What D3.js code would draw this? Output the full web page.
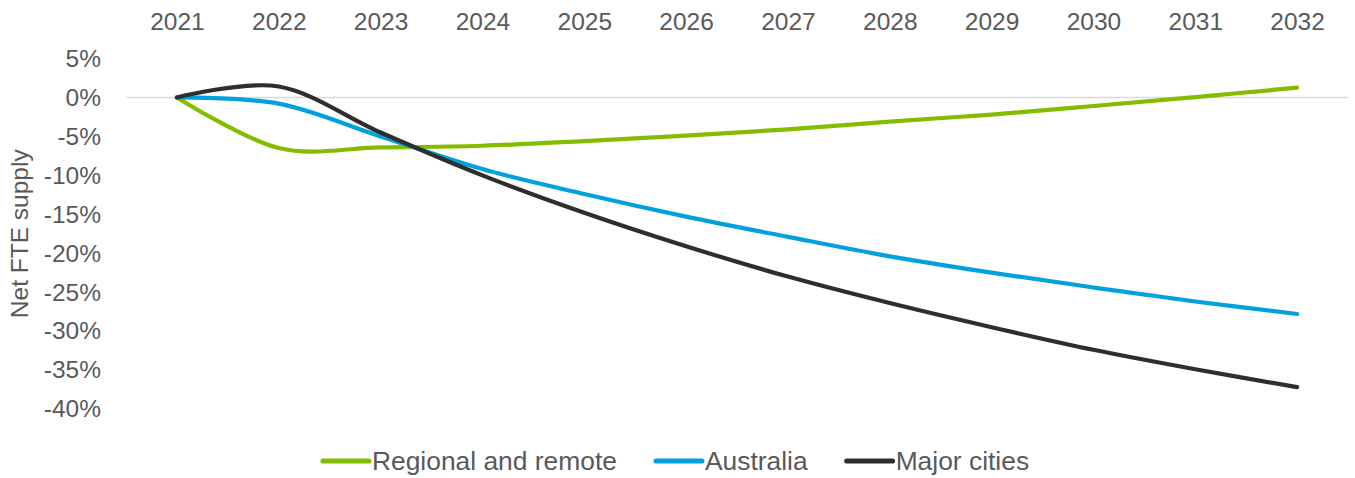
<!DOCTYPE html>
<html>
<head>
<meta charset="utf-8">
<script src="https://cdn.jsdelivr.net/npm/d3@7"></script>
<style>
  body { margin: 0; background: #fff; }
  text { font-family: "Liberation Sans", Arial, sans-serif; fill: #595959; }
</style>
</head>
<body>
<svg id="chart" width="1355" height="478"></svg>
<script>
// data
var years = ["2021","2022","2023","2024","2025","2026","2027","2028","2029","2030","2031","2032"];
var regional = [0, -6.5, -6.4, -6.2, -5.6, -4.9, -4.1, -3.1, -2.2, -1.1, 0.05, 1.25];
var australia = [0, -0.8, -5.0, -9.2, -12.4, -15.3, -17.9, -20.4, -22.5, -24.4, -26.2, -27.8];
var majorCities = [0, 1.4, -4.5, -10.0, -14.8, -19.1, -23.0, -26.4, -29.5, -32.4, -34.9, -37.2];
var yTicks = [5, 0, -5, -10, -15, -20, -25, -30, -35, -40];

var series = [
  {name: "Regional and remote", values: regional, color: "#84bd00"},
  {name: "Australia", values: australia, color: "#00a1de"},
  {name: "Major cities", values: majorCities, color: "#2e2e2e"}
];

var svg = d3.select("#chart");
var fontSize = 24.5;
var legendFont = 26.4;

var x = d3.scalePoint()
  .domain(years)
  .range([126, 1348])
  .padding(0.5);

var y = d3.scaleLinear()
  .domain([-40, 5])
  .range([409, 58.5]);

// zero line
svg.append("line")
  .attr("x1", 126).attr("x2", 1348)
  .attr("y1", y(0)).attr("y2", y(0))
  .attr("stroke", "#d9d9d9")
  .attr("stroke-width", 1.5);

// year labels along the top
var xAxis = svg.append("g")
  .attr("transform", "translate(0,30)")
  .call(d3.axisTop(x).tickSize(0).tickPadding(0));
xAxis.select(".domain").remove();
xAxis.selectAll("text")
  .style("font-size", fontSize + "px")
  .attr("fill", "#595959");

// percent labels
var yAxis = svg.append("g")
  .attr("transform", "translate(101,0)")
  .call(d3.axisLeft(y).tickValues(yTicks).tickSize(0).tickPadding(0)
    .tickFormat(function(d){ return d + "%"; }));
yAxis.select(".domain").remove();
yAxis.selectAll("text")
  .style("font-size", fontSize + "px")
  .attr("fill", "#595959");

// axis title
svg.append("text")
  .attr("transform", "translate(28," + ((y(5) + y(-40)) / 2) + ") rotate(-90)")
  .attr("text-anchor", "middle")
  .style("font-size", fontSize + "px")
  .text("Net FTE supply");

var line = d3.line()
  .x(function(d, i){ return x(years[i]); })
  .y(function(d){ return y(d); })
  .curve(d3.curveCardinal.tension(0));

svg.selectAll("path.series")
  .data(series)
  .enter()
  .append("path")
  .attr("class", "series")
  .attr("d", function(s){ return line(s.values); })
  .attr("fill", "none")
  .attr("stroke", function(s){ return s.color; })
  .attr("stroke-width", 4.2)
  .attr("stroke-linecap", "round")
  .attr("stroke-linejoin", "round");

// legend, centred under the chart
var legend = svg.append("g");
var cursor = 0;
series.forEach(function(s){
  var g = legend.append("g").attr("transform", "translate(" + cursor + ",0)");
  g.append("line")
    .attr("x1", 2).attr("x2", 48)
    .attr("y1", 0).attr("y2", 0)
    .attr("stroke", s.color)
    .attr("stroke-width", 5)
    .attr("stroke-linecap", "round");
  var t = g.append("text")
    .attr("x", 51)
    .attr("dy", "0.35em")
    .style("font-size", legendFont + "px")
    .text(s.name);
  cursor += 51 + t.node().getComputedTextLength() + 37;
});
var legendWidth = cursor - 37;
legend.attr("transform", "translate(" + (675 - legendWidth / 2) + ",461)");
</script>
</body>
</html>
